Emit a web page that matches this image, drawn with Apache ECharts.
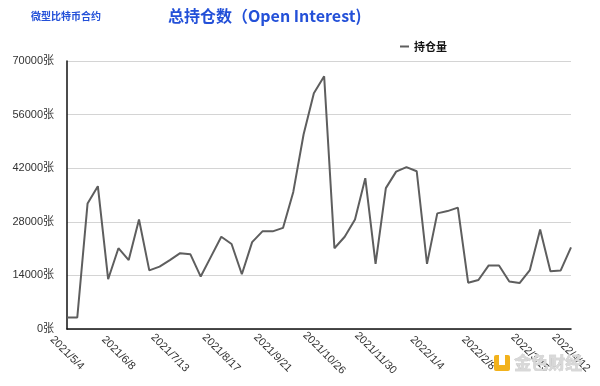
<!DOCTYPE html>
<html>
<head>
<meta charset="utf-8">
<script src="https://cdn.jsdelivr.net/npm/echarts@6/dist/echarts.min.js"></script>
<style>html,body{margin:0;padding:0;background:#fff}#c{width:600px;height:386px}</style>
</head>
<body>
<div id="c"></div>
<script>
var titleText = '总持仓数（Open Interest)';
var subText = '微型比特币合约';
var seriesName = '持仓量';
var startDate = [2021, 5, 4];
var weekCount = 50;
var openInterest = [
  3000, 3000, 32800, 37300, 13000, 21100, 18000, 28600, 15300, 16300,
  18000, 19800, 19500, 13700, 18900, 24100, 22200, 14300, 22700, 25500,
  25500, 26400, 35800, 50800, 61600, 66000, 21100, 24100, 28600, 39400,
  17000, 36800, 41100, 42300, 41200, 17000, 30200, 30800, 31700, 12100,
  12800, 16600, 16600, 12400, 12000, 15400, 26000, 15100, 15300, 21300
];
var yTicks = [0, 14000, 28000, 42000, 56000, 70000];

var categories = [];
(function(){
  var d = new Date(startDate[0], startDate[1]-1, startDate[2]);
  for (var i = 0; i < weekCount; i++) {
    var t = new Date(d.getTime() + i*7*86400000);
    categories.push(t.getFullYear() + '/' + (t.getMonth()+1) + '/' + t.getDate());
  }
})();

var chart = echarts.init(document.getElementById('c'), null, {renderer:'canvas'});
var font = '"Noto Sans CJK SC", "Noto Sans", sans-serif';
var axisFont = '"Liberation Sans", "Noto Sans CJK SC", sans-serif';
chart.setOption({
  backgroundColor: '#fff',
  animation: false,
  title: [
    {text: titleText, left: 168, top: 8, padding: 0,
     textStyle: {color: '#2350d8', fontSize: 16, fontWeight: 'bold', fontFamily: font}},
    {text: subText, left: 31, top: 11, padding: 0,
     textStyle: {color: '#2350d8', fontSize: 10, fontWeight: 'bold', fontFamily: font}}
  ],
  legend: {
    data: [seriesName], left: 400, top: 41, padding: 0,
    icon: 'rect', itemWidth: 9, itemHeight: 2, itemGap: 6,
    textStyle: {color: '#111', fontSize: 11, fontWeight: 'bold', fontFamily: font}
  },
  grid: {left: 67, right: 29, top: 61, bottom: 57, containLabel: false},
  xAxis: {
    type: 'category', data: categories, boundaryGap: false,
    axisLine: {lineStyle: {color: '#111', width: 1.5}},
    axisTick: {show: false},
    axisLabel: {
      interval: function(i){ return i % 5 === 0 || i === weekCount - 1; },
      rotate: -45, align: 'center', verticalAlign: 'middle', margin: 24,
      color: '#333', fontSize: 11, fontFamily: axisFont
    },
    splitLine: {show: false}
  },
  yAxis: {
    type: 'value', min: yTicks[0], max: yTicks[yTicks.length-1], interval: yTicks[1]-yTicks[0],
    axisLine: {show: true, lineStyle: {color: '#111', width: 1.5}},
    axisTick: {show: false},
    axisLabel: {formatter: function(v){ return String(v) + '张'; }, color: '#333', fontSize: 11, margin: 13, fontFamily: axisFont},
    splitLine: {lineStyle: {color: '#d4d4d4', width: 1}}
  },
  series: [{
    name: seriesName, type: 'line', data: openInterest,
    symbol: 'none', smooth: false,
    lineStyle: {color: '#5e5e5e', width: 2},
    itemStyle: {color: '#5e5e5e'}
  }],
  graphic: [
    {type: 'rect', left: 494, top: 355, shape: {width: 16, height: 16, r: 2},
     style: {fill: '#f2b21c'}, z: 100},
    {type: 'rect', left: 499, top: 355, shape: {width: 6, height: 10},
     style: {fill: '#fff'}, z: 101},
    {type: 'text', left: 514, top: 354, z: 100,
     style: {text: '金色财经', fill: '#d8d8d8', stroke: '#bbb', lineWidth: 0.5,
             font: 'bold 17px "Noto Sans CJK SC", sans-serif'}}
  ]
});
</script>
</body>
</html>
